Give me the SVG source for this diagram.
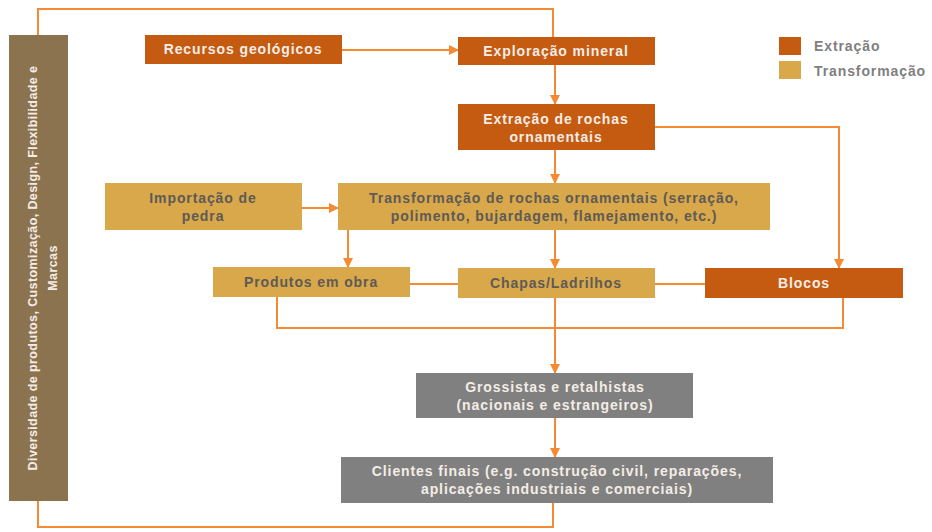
<svg xmlns="http://www.w3.org/2000/svg" width="932" height="532" viewBox="0 0 932 532">
<style>
text{font-family:"Liberation Sans",Arial,sans-serif;font-weight:bold;font-size:14px;text-anchor:middle;letter-spacing:0.9px}
.ext{fill:#C55A11}
.trf{fill:#D8A84B}
.gry{fill:#808080}
.w{fill:#F4EDE6}
.d{fill:#5E5A55}
.c{fill:none;stroke:#F58A33;stroke-width:2}
.lg{fill:#7F7F7F;text-anchor:start}
</style>
<defs>
<marker id="ah" markerWidth="10" markerHeight="10" refX="9" refY="5" orient="auto" markerUnits="userSpaceOnUse">
<path d="M0,0 L10,5 L0,10 Z" fill="#F58A33"/>
</marker>
</defs>
<g id="connectors">
<path class="c" d="M38,35 V9 H553 V37"/>
<path class="c" d="M38,501 V527 H553 V503"/>
<path class="c" d="M342,50 H458" marker-end="url(#ah)"/>
<path class="c" d="M555,65 V104" marker-end="url(#ah)"/>
<path class="c" d="M655,127 H839 V268" marker-end="url(#ah)"/>
<path class="c" d="M555,150 V183" marker-end="url(#ah)"/>
<path class="c" d="M302,208 H338" marker-end="url(#ah)"/>
<path class="c" d="M348,230 V267" marker-end="url(#ah)"/>
<path class="c" d="M555,230 V268" marker-end="url(#ah)"/>
<path class="c" d="M410,284 H458"/>
<path class="c" d="M655,284 H705"/>
<path class="c" d="M277,297 V328 H843 V298"/>
<path class="c" d="M555,298 V373" marker-end="url(#ah)"/>
<path class="c" d="M555,418 V457" marker-end="url(#ah)"/>
</g>
<g id="side">
<rect x="9" y="35" width="59" height="466" fill="#8C7350"/>
<text class="w" transform="translate(37,268) rotate(-90)" style="font-size:12.5px;letter-spacing:0.4px">Diversidade de produtos, Customização, Design, Flexibilidade e</text>
<text class="w" transform="translate(57,268) rotate(-90)" style="font-size:12.5px;letter-spacing:0.4px">Marcas</text>
</g>
<g id="recursos">
<rect class="ext" x="145" y="35" width="197" height="29"/>
<text class="w" x="243" y="54">Recursos geológicos</text>
</g>
<g id="exploracao">
<rect class="ext" x="458" y="37" width="197" height="28"/>
<text class="w" x="556" y="56">Exploração mineral</text>
</g>
<g id="extracao">
<rect class="ext" x="458" y="104" width="197" height="46"/>
<text class="w" x="556" y="124">Extração de rochas</text>
<text class="w" x="556" y="142">ornamentais</text>
</g>
<g id="importacao">
<rect class="trf" x="105" y="183" width="197" height="47"/>
<text class="d" x="203" y="203">Importação de</text>
<text class="d" x="203" y="221">pedra</text>
</g>
<g id="transformacao">
<rect class="trf" x="338" y="183" width="432" height="47"/>
<text class="d" x="554" y="203">Transformação de rochas ornamentais (serração,</text>
<text class="d" x="554" y="221">polimento, bujardagem, flamejamento, etc.)</text>
</g>
<g id="produtos">
<rect class="trf" x="213" y="267" width="197" height="30"/>
<text class="d" x="311" y="287">Produtos em obra</text>
</g>
<g id="chapas">
<rect class="trf" x="458" y="268" width="197" height="30"/>
<text class="d" x="556" y="288">Chapas/Ladrilhos</text>
</g>
<g id="blocos">
<rect class="ext" x="705" y="268" width="198" height="30"/>
<text class="w" x="804" y="288">Blocos</text>
</g>
<g id="grossistas">
<rect class="gry" x="416" y="373" width="277" height="45"/>
<text class="w" x="555" y="392">Grossistas e retalhistas</text>
<text class="w" x="555" y="410">(nacionais e estrangeiros)</text>
</g>
<g id="clientes">
<rect class="gry" x="341" y="457" width="432" height="46"/>
<text class="w" x="557" y="476">Clientes finais (e.g.  construção civil, reparações,</text>
<text class="w" x="557" y="494">aplicações industriais e comerciais)</text>
</g>
<g id="legend">
<rect class="ext" x="779" y="37" width="22" height="18"/>
<text class="lg" x="814" y="51">Extração</text>
<rect class="trf" x="779" y="61" width="22" height="18"/>
<text class="lg" x="814" y="76">Transformação</text>
</g>
</svg>
